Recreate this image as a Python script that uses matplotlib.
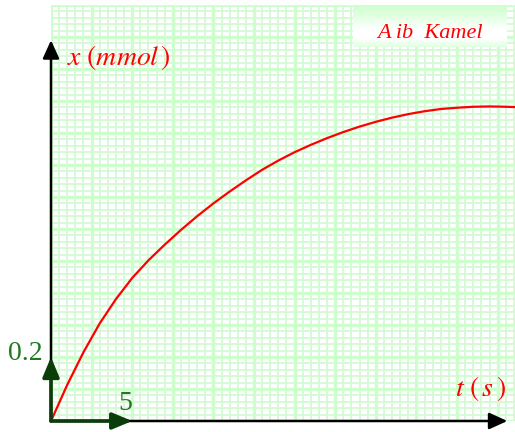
import numpy as np
import matplotlib
matplotlib.use("Agg")
import matplotlib.pyplot as plt

# curve: time (s) and amount x (mmol)
t_s = [0, 1, 2, 3, 4, 5, 6, 7, 8, 9, 10, 11, 12, 13, 14, 15, 16, 17, 18, 19, 20,
       21, 22, 23, 24, 25, 26, 27, 28, 28.6]
x_mmol = [0, 0.113, 0.215, 0.305, 0.381, 0.447, 0.502, 0.551, 0.597, 0.640, 0.680,
          0.717, 0.752, 0.785, 0.814, 0.840, 0.863, 0.884, 0.903, 0.920, 0.935,
          0.948, 0.959, 0.968, 0.975, 0.979, 0.982, 0.983, 0.982, 0.981]

# scale units shown by the green arrows
t_unit = 5
x_unit = 0.2

plt.rcParams['mathtext.fontset'] = 'stix'

fig = plt.figure(figsize=(5.15, 4.32), dpi=100)
ax = fig.add_axes([51 / 515, 11 / 432, 464 / 515, 416 / 432])
ax.set_xlim(0, 28.57)
ax.set_ylim(0, 1.3)

# graph paper grid
ax.set_xticks(np.arange(0, 28.6, 2.5))
ax.set_xticks(np.arange(0, 28.6, 0.5), minor=True)
ax.set_yticks(np.arange(0, 1.31, 0.1))
ax.set_yticks(np.arange(0, 1.31, 0.02), minor=True)
ax.grid(which='major', color='#ccffcc', lw=2.4)
ax.grid(which='minor', color='#d2fad2', lw=1.2)
ax.tick_params(which='both', length=0, labelbottom=False, labelleft=False)
for s in ax.spines.values():
    s.set_visible(False)
ax.set_axisbelow(True)

# the curve
ax.plot(t_s, x_mmol, color='red', lw=1.6, zorder=3, clip_on=False)

# black axes with arrows
black = dict(arrowstyle='-|>,head_length=0.55,head_width=0.25', mutation_scale=20,
             color='black', lw=1.8, shrinkA=0, shrinkB=0)
ax.annotate('', xy=(0, 1.19), xytext=(0, 0), arrowprops=black, annotation_clip=False)
ax.annotate('', xy=(28.1, 0), xytext=(0, 0), arrowprops=black, annotation_clip=False)

# green unit arrows
green = dict(arrowstyle='-|>,head_length=0.6,head_width=0.25', mutation_scale=20,
             color='#0b3d0b', lw=2.6, shrinkA=0, shrinkB=0)
ax.annotate('', xy=(0, x_unit), xytext=(0, 0), arrowprops=green, annotation_clip=False, zorder=4)
ax.annotate('', xy=(t_unit, 0), xytext=(0, 0), arrowprops=green, annotation_clip=False, zorder=4)

ax.text(-0.5, x_unit + 0.01, '0.2', color='#1e7a1e', fontsize=20, family='Liberation Serif',
        ha='right', va='center', clip_on=False)
ax.text(t_unit - 0.4, 0.055, '5', color='#1e7a1e', fontsize=20, family='Liberation Serif',
        ha='center', va='center')

# axis names
ax.text(1.0, 1.135, r'$x\ \left(mmol\,\right)$', color='red', fontsize=20, ha='left', va='center')
ax.text(28.0, 0.103, r'$t\ \left(\,s\,\right)$', color='red', fontsize=20, ha='right', va='center')

# name box with gradient
bax = fig.add_axes([353 / 515, 1 - 47 / 432, 154 / 515, 42 / 432])
rows = np.linspace(0, 1, 60)
top = np.array([0.80, 1.0, 0.80])
white = np.array([1.0, 1.0, 1.0])
grad = np.array([top + (white - top) * min(r / 0.6, 1) if r < 0.8 else
                 white + (np.array([0.88, 1.0, 0.88]) - white) * (r - 0.8) / 0.2 for r in rows])
bax.imshow(grad[:, None, :], aspect='auto', extent=(0, 1, 0, 1))
bax.set_axis_off()
bax.text(0.5, 0.33, 'A ib  Kamel', color='red', fontsize=16, family='Liberation Serif',
         style='italic', ha='center', va='center', transform=bax.transAxes)

fig.savefig('out.png', dpi=100)
